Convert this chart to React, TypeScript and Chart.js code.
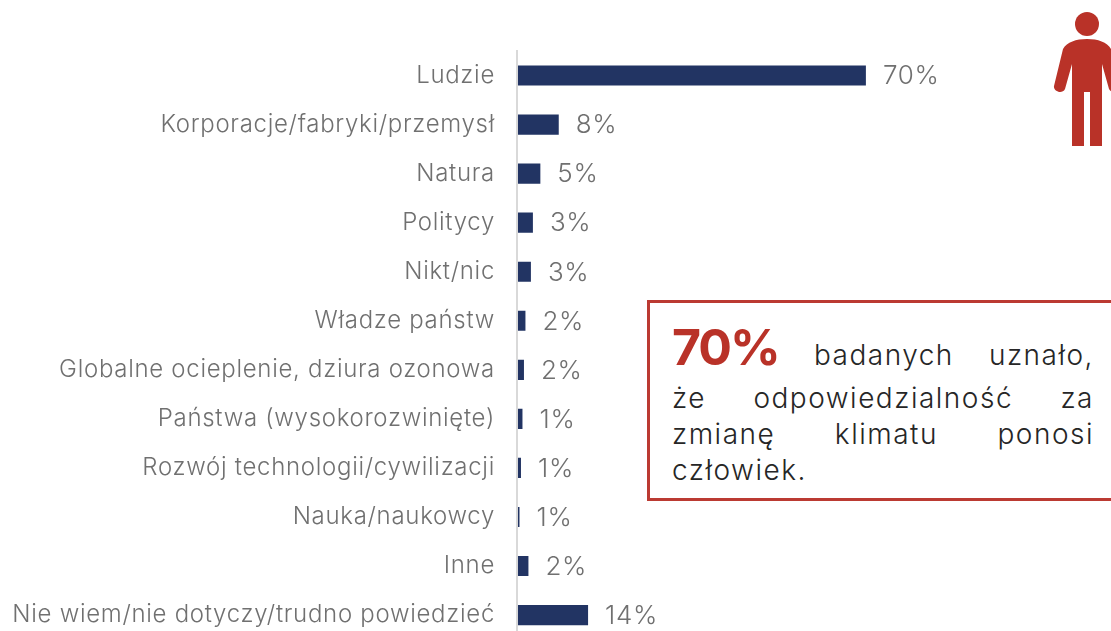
import React, { useEffect, useRef } from "react";
import { Chart, registerables } from "chart.js";

Chart.register(...registerables);

const categories = [
  "Ludzie",
  "Korporacje/fabryki/przemysł",
  "Natura",
  "Politycy",
  "Nikt/nic",
  "Władze państw",
  "Globalne ocieplenie, dziura ozonowa",
  "Państwa (wysokorozwinięte)",
  "Rozwój technologii/cywilizacji",
  "Nauka/naukowcy",
  "Inne",
  "Nie wiem/nie dotyczy/trudno powiedzieć",
];
const barValues = [70, 8.2, 4.5, 3, 2.6, 1.5, 1.2, 0.9, 0.6, 0.3, 2.1, 14.1];
const valueLabels = ["70%", "8%", "5%", "3%", "3%", "2%", "2%", "1%", "1%", "1%", "2%", "14%"];

const FONT = "Inter, sans-serif";

const spacingPlugin = {
  id: "spacing",
  beforeDraw(chart: any) {
    chart.ctx.letterSpacing = "0.7px";
  },
};

const valueLabelPlugin = {
  id: "valueLabels",
  afterDatasetsDraw(chart: any) {
    const { ctx } = chart;
    const meta = chart.getDatasetMeta(0);
    ctx.save();
    ctx.font = `300 26px ${FONT}`;
    ctx.fillStyle = "#707070";
    ctx.textAlign = "left";
    ctx.textBaseline = "middle";
    meta.data.forEach((el: any, i: number) => {
      ctx.fillText(valueLabels[i], el.x + 17, el.y + 1);
    });
    ctx.restore();
  },
};

export default function App() {
  const ref = useRef<HTMLCanvasElement>(null);
  useEffect(() => {
    document.body.style.margin = "0";
    const chart = new Chart(ref.current!, {
      type: "bar",
      data: {
        labels: categories,
        datasets: [
          {
            data: barValues,
            backgroundColor: "#223463",
            categoryPercentage: 1,
            barPercentage: 0.41,
          },
        ],
      },
      options: {
        indexAxis: "y",
        animation: false,
        responsive: false,
        maintainAspectRatio: false,
        layout: { padding: { top: 51, bottom: 3, right: 96 } },
        plugins: { legend: { display: false }, tooltip: { enabled: false } },
        scales: {
          x: { display: false, min: -0.2, max: 100 },
          y: {
            afterFit: (s: any) => {
              s.width = 517;
            },
            grid: { display: false },
            border: { display: true, color: "#d9d9d9", width: 2 },
            ticks: {
              color: "#707070",
              padding: 14,
              autoSkip: false,
              font: { family: FONT, size: 24, weight: 300 },
            },
          },
        },
      },
      plugins: [spacingPlugin, valueLabelPlugin],
    } as any);
    return () => chart.destroy();
  }, []);

  const line: React.CSSProperties = {
    textAlign: "justify",
    textAlignLast: "justify",
    height: 36,
    lineHeight: "36px",
    whiteSpace: "nowrap",
  };

  return (
    <div style={{ position: "relative", width: 1111, height: 631, overflow: "hidden", background: "#fff" }}>
      <canvas ref={ref} width={1111} height={668} style={{ position: "absolute", left: 0, top: 0 }} />
      <svg width={1111} height={160} style={{ position: "absolute", left: 0, top: 0 }}>
        <circle cx={1087} cy={24} r={12} fill="#b93228" />
        <path
          fill="#b93228"
          d="M1087 39 C1076 39 1067 42 1063 49 L1054 86 C1053 91 1062 95 1065 89 L1072 64 L1072 146 L1084 146 L1084 92 L1090 92 L1090 146 L1102 146 L1102 64 L1109 89 C1112 95 1121 91 1120 86 L1111 49 C1107 42 1098 39 1087 39 Z"
        />
      </svg>
      <div
        style={{
          position: "absolute",
          left: 647,
          top: 300,
          width: 480,
          height: 201,
          boxSizing: "border-box",
          border: "3px solid #bb3a32",
          background: "#fff",
        }}
      />
      <div
        style={{
          position: "absolute",
          left: 672,
          top: 318,
          width: 422,
          fontFamily: FONT,
          fontWeight: 300,
          fontSize: 28,
          letterSpacing: 1.5,
          color: "#262626",
        }}
      >
        <div style={{ ...line, height: 58, lineHeight: "58px" }}>
          <span style={{ fontSize: 50, fontWeight: 700, color: "#b93228", letterSpacing: -2 }}>70%</span> badanych uznało,
        </div>
        <div style={{ ...line, marginTop: 4 }}>że odpowiedzialność za</div>
        <div style={line}>zmianę klimatu ponosi</div>
        <div style={{ ...line, textAlignLast: "left" }}>człowiek.</div>
      </div>
    </div>
  );
}
